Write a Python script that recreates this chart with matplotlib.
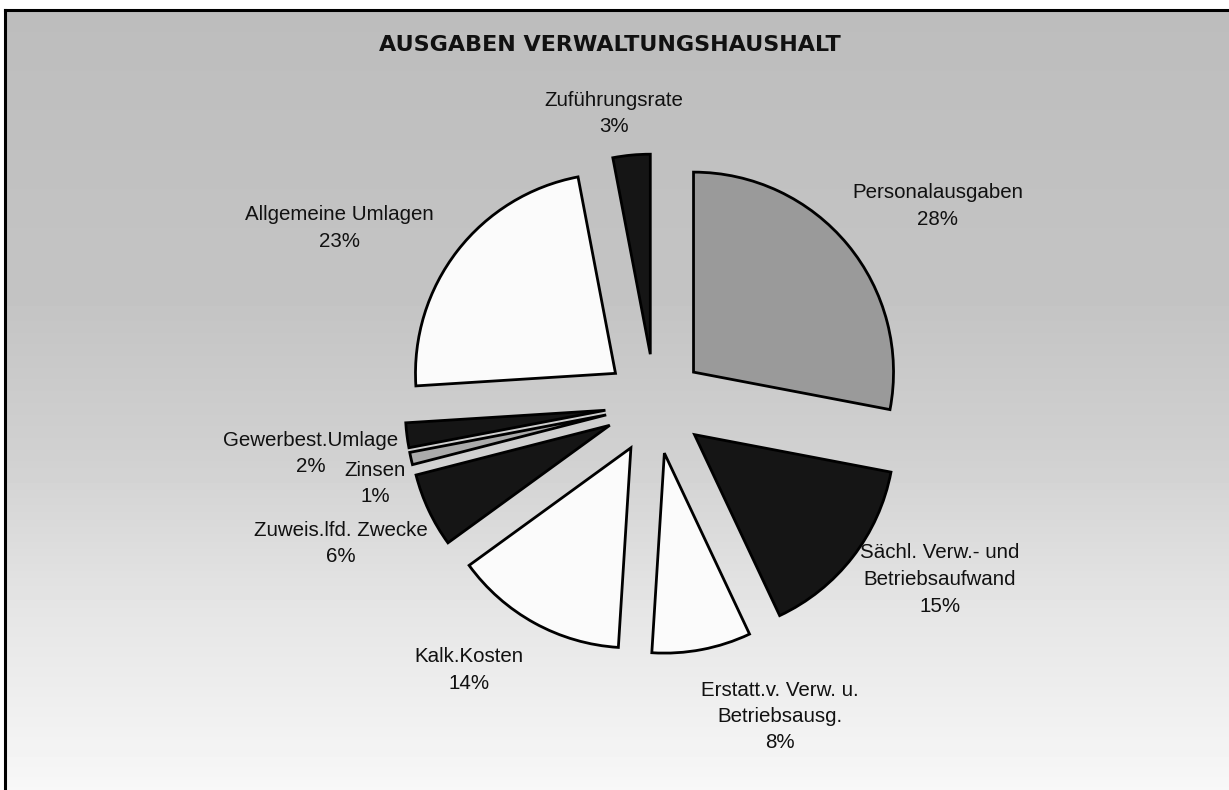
import numpy as np
import matplotlib.pyplot as plt

# ========== data ==========
categories = ['Personalausgaben', 'Sächl. Verw.- und\nBetriebsaufwand',
              'Erstatt.v. Verw. u.\nBetriebsausg.', 'Kalk.Kosten',
              'Zuweis.lfd. Zwecke', 'Zinsen', 'Gewerbest.Umlage',
              'Allgemeine Umlagen', 'Zuführungsrate']
shares = [28, 15, 8, 14, 6, 1, 2, 23, 3]
colors = ['#9a9a9a', '#151515', '#fbfbfb', '#fbfbfb', '#151515',
          '#ababab', '#151515', '#fbfbfb', '#151515']

# centre of the first label line in pixels (x, y from top)
label_xy = [(938, 193), (940, 553), (780, 690), (469, 657), (341, 530),
            (375, 470), (311, 440), (339, 215), (614, 100)]

W, H = 1229, 790
fig = plt.figure(figsize=(W / 100, H / 100), dpi=100)
ax = fig.add_axes([0, 0, 1, 1])

# background: scanned grey, lighter towards the bottom
ys = np.array([0, 300, 450, 600, 780])
gs = np.array([0.74, 0.77, 0.82, 0.90, 0.97])
grad = np.interp(np.arange(780), ys, gs)[:, None]
ax.imshow(grad, extent=[5, W, 0, 780], cmap='gray', vmin=0, vmax=1,
          aspect='auto', zorder=0)
ax.plot([5, 5], [0, 780], color='black', lw=2.2, zorder=1)
ax.plot([5, W], [780, 780], color='black', lw=2.2, zorder=1)

# pie
cx, cy = 655, H - 404
ax.pie(shares, colors=colors, startangle=90, counterclock=False,
       radius=200, center=(cx, cy), explode=[50] * len(shares),
       wedgeprops=dict(edgecolor='black', linewidth=2.0), frame=True)

# labels, one text per line (Excel style, centred)
step = 26.5
for name, val, (lx, ly) in zip(categories, shares, label_xy):
    lines = name.split('\n') + [f'{val}%']
    for i, line in enumerate(lines):
        ax.text(lx, H - (ly + i * step), line, ha='center', va='center',
                fontsize=14.8, family='Liberation Sans', color='#111111',
                zorder=5)

ax.text(610, H - 45, 'AUSGABEN VERWALTUNGSHAUSHALT', ha='center', va='center',
        fontsize=16, fontweight='bold', family='DejaVu Sans', color='#111111')

ax.set_xlim(0, W)
ax.set_ylim(0, H)
ax.axis('off')
fig.savefig('out.png', dpi=100, facecolor='white')
